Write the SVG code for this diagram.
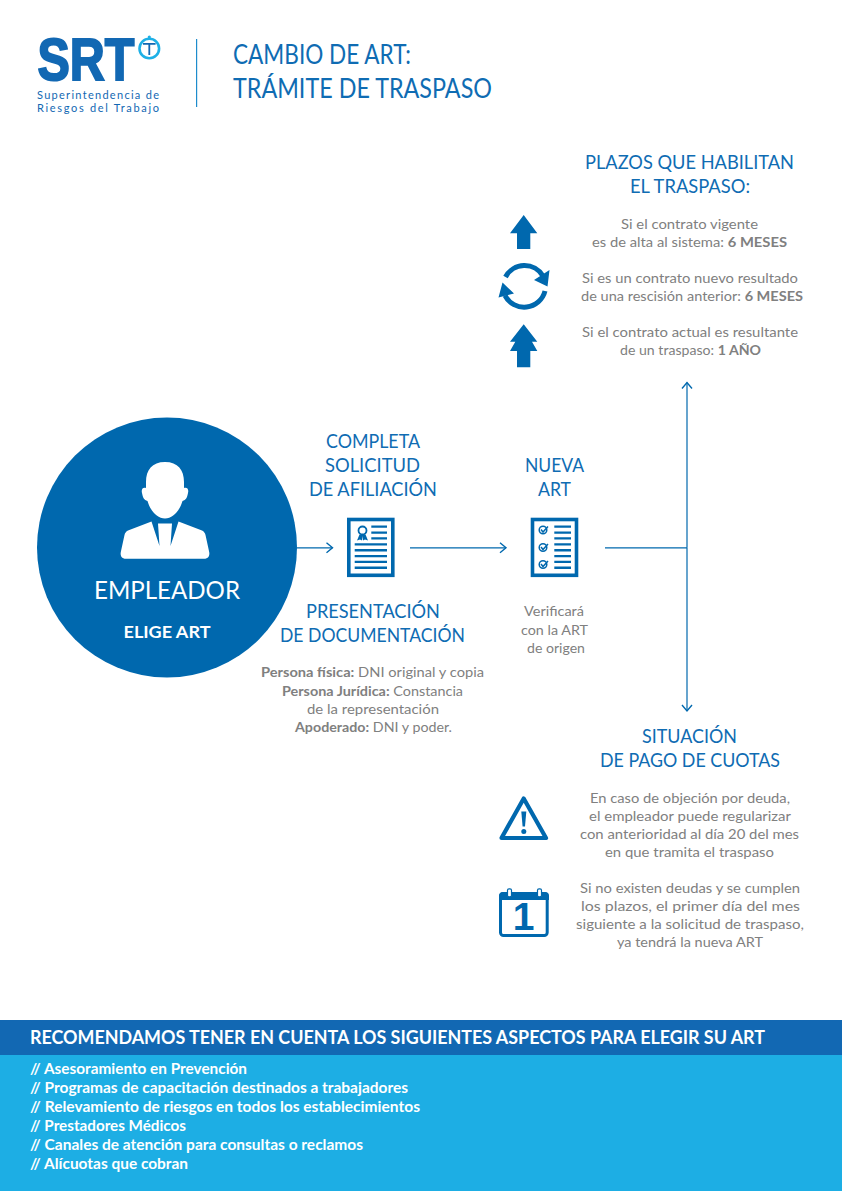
<svg xmlns="http://www.w3.org/2000/svg" width="842" height="1191" viewBox="0 0 842 1191">
<style>
text{font-family:Lato,"Open Sans","Liberation Sans",sans-serif}
.h{font-size:20px;fill:#0f6cb3;text-anchor:middle}
.b{font-size:14px;fill:#808080;text-anchor:middle}
.b tspan{font-weight:700}
.t{font-size:27px;fill:#0f6cb3}
.l{font-size:15px;font-weight:700;fill:#fff}
.ic{fill:#0068ae}
.ln{stroke:#0068ae;stroke-width:1.2;fill:none}
.wl{fill:#fff}
</style>
<defs>
<marker id="op" markerUnits="userSpaceOnUse" markerWidth="12" markerHeight="14" refX="9" refY="7" orient="auto"><path d="M3 2L9 7L3 12" fill="none" stroke="#0068ae" stroke-width="1.4"/></marker>
</defs>
<g id="logo">
<text x="37.500" y="80" font-size="59" font-weight="700" textLength="97" lengthAdjust="spacingAndGlyphs" stroke="#1268b3" stroke-width="2" style="font-family:'Liberation Sans',sans-serif;fill:#1268b3">SRT</text>
<circle cx="149.300" cy="48.500" r="9.800" fill="none" stroke="#1eb0e6" stroke-width="2.600"/>
<circle cx="149.300" cy="37" r="1.600" fill="#1eb0e6"/>
<path d="M143 43h12.600v1.800h-5.400V55h-1.800V44.800H143z" fill="#1268b3"/>
<text x="37" y="98.500" font-size="11" textLength="122" style="fill:#1268b3">Superintendencia de</text>
<text x="37" y="112" font-size="11" textLength="122" style="fill:#1268b3">Riesgos del Trabajo</text>
</g>
<g id="titulo">
<rect x="196" y="39" width="1.200" height="68" fill="#1e8ccc"/>
<text class="t" x="233" y="64" textLength="178" lengthAdjust="spacingAndGlyphs">CAMBIO DE ART:</text>
<text class="t" x="233" y="98" textLength="259" lengthAdjust="spacingAndGlyphs">TRÁMITE DE TRASPASO</text>
</g>
<g id="connectors">
<path class="ln" d="M297 547.800H332.500" marker-end="url(#op)"/>
<path class="ln" d="M410 547.800H506" marker-end="url(#op)"/>
<path class="ln" d="M605 547.800H687"/>
<path class="ln" d="M687 547.800V382.500" marker-end="url(#op)"/>
<path class="ln" d="M687 547.800V711" marker-end="url(#op)"/>
</g>
<g id="empleador">
<circle cx="167" cy="547.500" r="130" fill="#0068ae"/>
<path class="wl" d="M165 462C152 462 146 470 146 482V488C143 487 141 489 142 493C143 498 144 500 147.500 501C150 510 157 518.500 165 518.500C173 518.500 180 510 182.500 501C186 500 187 498 188 493C189 489 187 487 184 488V482C184 470 178 462 165 462Z"/>
<path class="wl" d="M151.500 521.500L128 530.500C126 531.500 125 533 124.500 535L120.800 552C120 556 122 558.800 126 558.800H204C208 558.800 210 556 209.200 552L205.500 535C205 533 204 531.500 202 530.500L178.500 521.500L170.500 546L172 523.500H158L159.500 546Z"/>
<text x="167" y="599" font-size="25" fill="#fff" text-anchor="middle" textLength="146" lengthAdjust="spacingAndGlyphs">EMPLEADOR</text>
<text x="167" y="638" font-size="17" font-weight="700" fill="#fff" text-anchor="middle" textLength="87" lengthAdjust="spacingAndGlyphs">ELIGE ART</text>
</g>
<g id="solicitud">
<text class="h" x="373" y="448" textLength="94" lengthAdjust="spacingAndGlyphs">COMPLETA</text>
<text class="h" x="372.500" y="472" textLength="95" lengthAdjust="spacingAndGlyphs">SOLICITUD</text>
<text class="h" x="373" y="496" textLength="128" lengthAdjust="spacingAndGlyphs">DE AFILIACIÓN</text>
<rect x="348.800" y="519.500" width="44" height="55.800" fill="#fff" stroke="#0068ae" stroke-width="3.600"/>
<path class="ic" d="M371.300 525.500H387V527.800H371.300zM371.300 531.500H387V533.800H371.300zM371.300 537.200H387V539.500H371.300zM354.700 543.200H387V545.500H354.700zM354.700 549.100H387V551.400H354.700zM354.700 554.900H387V557.200H354.700zM354.700 560.800H387V563.100H354.700zM354.700 566.600H387V568.900H354.700z"/>
<circle cx="362.500" cy="530.500" r="4" fill="none" stroke="#0068ae" stroke-width="1.800"/>
<path class="ic" d="M359.500 534.500L357 540.500L360 539.500L362 540.500L362.500 536L363 540.500L365 539.500L368 540.500L365.500 534.500Z"/>
<text class="h" x="373" y="618" textLength="134" lengthAdjust="spacingAndGlyphs">PRESENTACIÓN</text>
<text class="h" x="372.500" y="642" textLength="185" lengthAdjust="spacingAndGlyphs">DE DOCUMENTACIÓN</text>
<text class="b" x="372.500" y="677" textLength="223" lengthAdjust="spacingAndGlyphs"><tspan>Persona física:</tspan> DNI original y copia</text>
<text class="b" x="372.500" y="696" textLength="181" lengthAdjust="spacingAndGlyphs"><tspan>Persona Jurídica:</tspan> Constancia</text>
<text class="b" x="373" y="714" textLength="132" lengthAdjust="spacingAndGlyphs">de la representación</text>
<text class="b" x="373.500" y="732" textLength="157" lengthAdjust="spacingAndGlyphs"><tspan>Apoderado:</tspan> DNI y poder.</text>
</g>
<g id="nueva-art">
<text class="h" x="554.500" y="472" textLength="59" lengthAdjust="spacingAndGlyphs">NUEVA</text>
<text class="h" x="554.500" y="496" textLength="33" lengthAdjust="spacingAndGlyphs">ART</text>
<rect x="532.500" y="519.500" width="44" height="55.800" fill="#fff" stroke="#0068ae" stroke-width="3.600"/>
<path class="ic" d="M554.300 525.500H571V527.800H554.300zM554.300 531.500H571V533.800H554.300zM554.300 537.200H571V539.500H554.300zM554.300 543.200H571V545.500H554.300zM554.300 549.100H571V551.400H554.300zM554.300 554.900H571V557.200H554.300zM554.300 560.800H571V563.100H554.300zM554.300 566.600H571V568.900H554.300z"/>
<g fill="none" stroke="#0068ae" stroke-width="1.500">
<circle cx="543" cy="530" r="3.800"/><path d="M541 529.500L543 532L548 526.500"/>
<circle cx="543" cy="547.500" r="3.800"/><path d="M541 547L543 549.500L548 544"/>
<circle cx="543" cy="564.500" r="3.800"/><path d="M541 564L543 566.500L548 561"/>
</g>
<text class="b" x="554" y="616" textLength="60" lengthAdjust="spacingAndGlyphs">Verificará</text>
<text class="b" x="554.500" y="635" textLength="67" lengthAdjust="spacingAndGlyphs">con la ART</text>
<text class="b" x="556" y="653" textLength="58" lengthAdjust="spacingAndGlyphs">de origen</text>
</g>
<g id="plazos">
<text class="h" x="689.500" y="169" textLength="209" lengthAdjust="spacingAndGlyphs">PLAZOS QUE HABILITAN</text>
<text class="h" x="690" y="193" textLength="120" lengthAdjust="spacingAndGlyphs">EL TRASPASO:</text>
<path class="ic" d="M523.700 215L537.300 233.300H530.300V249H517V233.300H510Z"/>
<g fill="none" stroke="#0068ae" stroke-width="5">
<path d="M505.500 277A21.500 21.500 0 0 1 543 276"/>
<path d="M545 291A21.500 21.500 0 0 1 505 295.500"/>
</g>
<path class="ic" d="M549.500 270L547.500 286.500L534 280ZM502.500 282.500L498.500 297.500L514 293.500Z"/>
<path class="ic" d="M523.700 324.300L537.300 341.700H532L537.300 351H530.300V367.300H517V351H510L515.300 341.700H510Z"/>
<text class="b" x="689.500" y="229" textLength="137" lengthAdjust="spacingAndGlyphs">Si el contrato vigente</text>
<text class="b" x="689.500" y="247" textLength="195" lengthAdjust="spacingAndGlyphs">es de alta al sistema: <tspan>6 MESES</tspan></text>
<text class="b" x="690" y="283" textLength="216" lengthAdjust="spacingAndGlyphs">Si es un contrato nuevo resultado</text>
<text class="b" x="692" y="301" textLength="222" lengthAdjust="spacingAndGlyphs">de una rescisión anterior: <tspan>6 MESES</tspan></text>
<text class="b" x="690" y="337" textLength="216" lengthAdjust="spacingAndGlyphs">Si el contrato actual es resultante</text>
<text class="b" x="690.500" y="355" textLength="141" lengthAdjust="spacingAndGlyphs">de un traspaso: <tspan>1 AÑO</tspan></text>
</g>
<g id="situacion">
<text class="h" x="689.500" y="743" textLength="95" lengthAdjust="spacingAndGlyphs">SITUACIÓN</text>
<text class="h" x="690" y="767" textLength="180" lengthAdjust="spacingAndGlyphs">DE PAGO DE CUOTAS</text>
<path d="M523.700 798.500L546 838H501.500Z" fill="#fff" stroke="#0068ae" stroke-width="4.200" stroke-linejoin="round"/>
<path class="ic" d="M521.300 811.500H526.300L525 826.500H522.600Z"/>
<circle class="ic" cx="523.800" cy="831.500" r="2.500"/>
<rect x="500.500" y="893.500" width="46.700" height="42" rx="3" fill="#fff" stroke="#0068ae" stroke-width="3"/>
<path class="ic" d="M499 896a4 4 0 0 1 4-4h42a4 4 0 0 1 4 4v4H499z"/>
<rect x="507.500" y="888.800" width="4" height="8" rx="1.500" fill="#fff" stroke="#0068ae" stroke-width="1.200"/>
<rect x="537.500" y="888.800" width="4" height="8" rx="1.500" fill="#fff" stroke="#0068ae" stroke-width="1.200"/>
<text x="523.700" y="930" font-size="39" font-weight="700" fill="#0068ae" text-anchor="middle" style="font-family:'Liberation Sans',sans-serif">1</text>
<text class="b" x="690" y="803" textLength="200" lengthAdjust="spacingAndGlyphs">En caso de objeción por deuda,</text>
<text class="b" x="690" y="821" textLength="202" lengthAdjust="spacingAndGlyphs">el empleador puede regularizar</text>
<text class="b" x="689.500" y="839" textLength="219" lengthAdjust="spacingAndGlyphs">con anterioridad al día 20 del mes</text>
<text class="b" x="689.500" y="857" textLength="169" lengthAdjust="spacingAndGlyphs">en que tramita el traspaso</text>
<text class="b" x="690" y="893" textLength="220" lengthAdjust="spacingAndGlyphs">Si no existen deudas y se cumplen</text>
<text class="b" x="690.500" y="911" textLength="219" lengthAdjust="spacingAndGlyphs">los plazos, el primer día del mes</text>
<text class="b" x="690" y="929" textLength="228" lengthAdjust="spacingAndGlyphs">siguiente a la solicitud de traspaso,</text>
<text class="b" x="690" y="947" textLength="146" lengthAdjust="spacingAndGlyphs">ya tendrá la nueva ART</text>
</g>
<g id="recomendaciones">
<rect x="0" y="1055" width="842" height="136" fill="#1daee4"/>
<rect x="0" y="1020" width="842" height="35" fill="#1268b3"/>
<text x="30" y="1044" font-size="19" font-weight="700" fill="#fff" textLength="735" lengthAdjust="spacingAndGlyphs">RECOMENDAMOS TENER EN CUENTA LOS SIGUIENTES ASPECTOS PARA ELEGIR SU ART</text>
<text class="l" x="30" y="1073.500" textLength="217" lengthAdjust="spacingAndGlyphs">// Asesoramiento en Prevención</text>
<text class="l" x="30" y="1092.700" textLength="378" lengthAdjust="spacingAndGlyphs">// Programas de capacitación destinados a trabajadores</text>
<text class="l" x="30" y="1111.900" textLength="390" lengthAdjust="spacingAndGlyphs">// Relevamiento de riesgos en todos los establecimientos</text>
<text class="l" x="30" y="1131" textLength="156" lengthAdjust="spacingAndGlyphs">// Prestadores Médicos</text>
<text class="l" x="30" y="1150.200" textLength="333" lengthAdjust="spacingAndGlyphs">// Canales de atención para consultas o reclamos</text>
<text class="l" x="30" y="1169.400" textLength="158" lengthAdjust="spacingAndGlyphs">// Alícuotas que cobran</text>
</g>
</svg>
